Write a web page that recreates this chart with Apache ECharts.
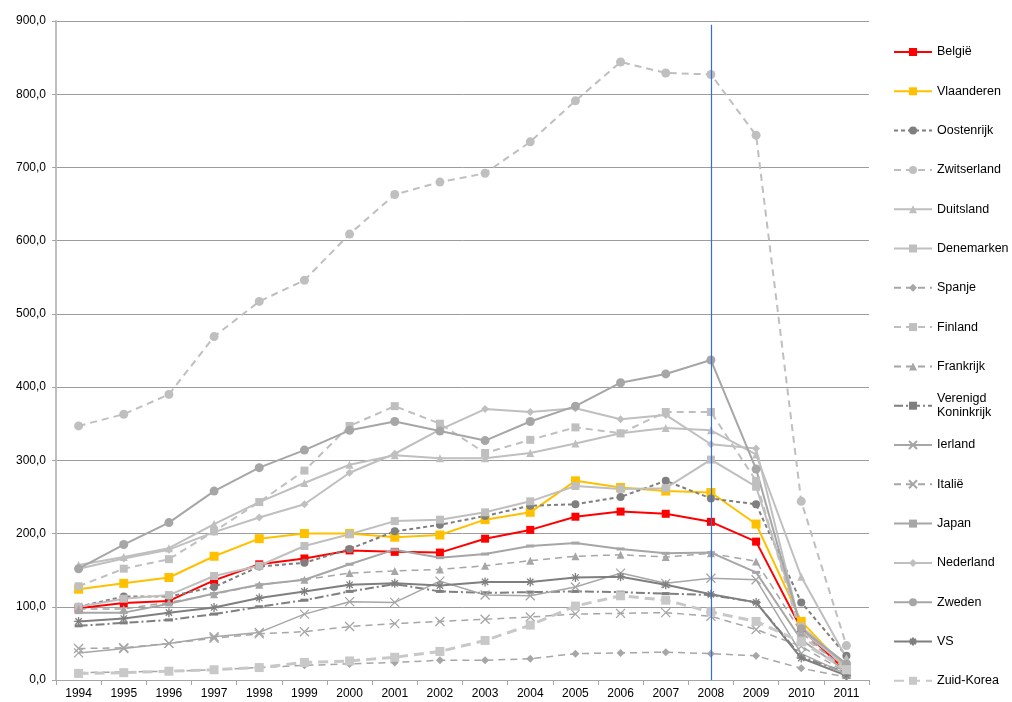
<!DOCTYPE html>
<html>
<head>
<meta charset="utf-8">
<script src="https://cdn.jsdelivr.net/npm/echarts@6/dist/echarts.min.js"></script>
<style>
html,body{margin:0;padding:0;background:#fff;}
#chart{width:1012px;height:702px;}
</style>
</head>
<body>
<div id="chart"></div>
<script>
const years = ['1994','1995','1996','1997','1998','1999','2000','2001','2002','2003','2004','2005','2006','2007','2008','2009','2010','2011'];
const yTicks = [0,100,200,300,400,500,600,700,800,900];

const belgie      = [98,105,108,136,158,166,177,175,174,193,205,223,230,227,216,189,70,12];
const vlaanderen  = [124,132,140,169,193,200,200,195,198,219,229,272,263,258,256,213,80,15];
const oostenrijk  = [100,114,114,127,155,160,179,203,212,224,238,240,250,272,248,240,106,33];
const zwitserland = [347,363,390,469,517,546,609,663,680,692,735,791,844,829,827,744,244,47];
const duitsland   = [157,168,180,213,243,269,294,307,303,303,310,323,337,344,341,308,141,30];
const denemarken  = [100,111,116,142,156,183,199,217,219,229,244,265,261,262,301,264,73,20];
const spanje      = [10,11,12,14,17,20,22,24,27,27,29,36,37,38,36,33,16,4];
const finland     = [128,152,165,203,243,286,347,374,350,310,328,345,337,366,366,272,60,15];
const frankrijk   = [97,97,106,117,130,137,146,149,151,156,163,169,171,168,173,162,65,12];
const vk          = [74,78,82,90,100,109,121,131,121,119,120,121,120,118,116,106,32,10];
const ierland     = [37,43,50,59,65,90,107,106,135,116,115,127,146,132,139,137,36,8];
const italie      = [43,44,50,57,63,66,73,77,80,83,86,90,91,92,87,69,46,10];
const japan       = [92,92,104,118,130,137,158,178,167,172,183,187,179,173,174,147,55,12];
const nederland   = [152,166,178,202,222,240,283,309,342,370,366,371,356,362,322,316,68,18];
const zweden      = [152,185,215,258,290,314,341,353,340,327,353,374,406,418,437,288,70,22];
const vs          = [80,84,92,99,112,121,130,132,129,134,134,140,141,130,117,106,30,6];
const zuidkorea   = [9,10,12,14,17,24,26,31,39,54,75,101,115,109,93,80,52,14];

const markerYear = '2008';
const markerTop = 895;

const X_PATH = 'path://M0,0L10,10M10,0L0,10';
const STAR_PATH = 'path://M0,5L10,5M5,0L5,10M1.5,1.5L8.5,8.5M8.5,1.5L1.5,8.5';
const DASH_PATH = 'path://M0,0L10,0L10,3L0,3Z';

function mk(name, data, color, lineType, lineWidth, symbol, symbolSize) {
  return {
    name: name, type: 'line', data: data,
    symbol: symbol, symbolSize: symbolSize,
    showSymbol: true,
    lineStyle: { color: color, width: lineWidth, type: lineType },
    itemStyle: { color: color, borderColor: color, borderWidth: 0 },
    emphasis: { disabled: true },
    animation: false
  };
}

const series = [
  mk('België', belgie, '#ff0000', 'solid', 2, 'rect', 8),
  mk('Vlaanderen', vlaanderen, '#ffc000', 'solid', 2, 'rect', 9),
  mk('Oostenrijk', oostenrijk, '#7f7f7f', [4,3], 2, 'circle', 8),
  mk('Zwitserland', zwitserland, '#bfbfbf', [7,5], 2, 'circle', 9),
  mk('Duitsland', duitsland, '#bfbfbf', 'solid', 2, 'triangle', 8),
  mk('Denemarken', denemarken, '#bfbfbf', 'solid', 2, 'rect', 8),
  mk('Spanje', spanje, '#a6a6a6', [7,5], 1.5, 'diamond', 8),
  mk('Finland', finland, '#bfbfbf', [7,5], 2, 'rect', 8),
  mk('Frankrijk', frankrijk, '#a6a6a6', [7,5], 1.5, 'triangle', 8),
  mk('Verenigd Koninkrijk', vk, '#7f7f7f', [9,3,2,3], 2, 'rect', [8,3]),
  mk('Ierland', ierland, '#a6a6a6', 'solid', 1.5, X_PATH, 9),
  mk('Italië', italie, '#a6a6a6', [7,5], 1.5, X_PATH, 9),
  mk('Japan', japan, '#a6a6a6', 'solid', 2, DASH_PATH, [8,3]),
  mk('Nederland', nederland, '#bfbfbf', 'solid', 2, 'diamond', 8),
  mk('Zweden', zweden, '#a6a6a6', 'solid', 2, 'circle', 9),
  mk('VS', vs, '#7f7f7f', 'solid', 2, STAR_PATH, 9),
  mk('Zuid-Korea', zuidkorea, '#c8c8c8', [10,6], 3, 'rect', 9)
];
[10,11,15].forEach(i => { series[i].itemStyle.borderWidth = 1.3; });

series[0].markLine = {
  silent: true, symbol: 'none', animation: false,
  label: { show: false },
  lineStyle: { color: '#2f6fd6', type: 'solid', width: 1.2, opacity: 1 },
  emphasis: { disabled: true },
  data: [[{ xAxis: markerYear, yAxis: markerTop }, { xAxis: markerYear, yAxis: 0 }]]
};

const legendStart = 52, legendStep = 39.3;
const legends = series.map((s, i) => {
  const center = legendStart + i * legendStep;
  const twoLine = s.name.indexOf(' ') >= 0;
  return {
    data: [s.name],
    orient: 'vertical',
    left: 893,
    top: center - (twoLine ? 14 : 7),
    padding: 0,
    itemWidth: 38,
    itemHeight: 10,
    itemGap: 0,
    selectedMode: false,
    formatter: n => n.replace(' ', '\n'),
    textStyle: { fontFamily: 'Liberation Sans, Arial, sans-serif', fontSize: 12.5, color: '#000', lineHeight: 14 }
  };
});

const chart = echarts.init(document.getElementById('chart'), null, { renderer: 'canvas' });
chart.setOption({
  backgroundColor: '#ffffff',
  animation: false,
  textStyle: { fontFamily: 'Liberation Sans, Arial, sans-serif' },
  grid: { left: 56, right: 143, top: 21, bottom: 22, containLabel: false },
  legend: legends,
  xAxis: {
    type: 'category',
    data: years,
    boundaryGap: true,
    axisLine: { show: true, lineStyle: { color: '#a6a6a6', width: 1 } },
    axisTick: { show: true, length: 5, alignWithLabel: false, lineStyle: { color: '#a6a6a6' } },
    axisLabel: { color: '#000', fontSize: 12, margin: 8, fontFamily: 'Liberation Sans, Arial, sans-serif' },
    splitLine: { show: false }
  },
  yAxis: {
    type: 'value',
    min: yTicks[0],
    max: yTicks[yTicks.length - 1],
    interval: 100,
    axisLine: { show: true, lineStyle: { color: '#bfbfbf', width: 2 } },
    axisTick: { show: true, length: 4, lineStyle: { color: '#a6a6a6' } },
    axisLabel: {
      color: '#000', fontSize: 12, margin: 10,
      fontFamily: 'Liberation Sans, Arial, sans-serif',
      formatter: v => v.toFixed(1).replace('.', ',')
    },
    splitLine: { show: true, lineStyle: { color: '#9c9c9c', width: 1 } }
  },
  series: series
});
</script>
</body>
</html>
